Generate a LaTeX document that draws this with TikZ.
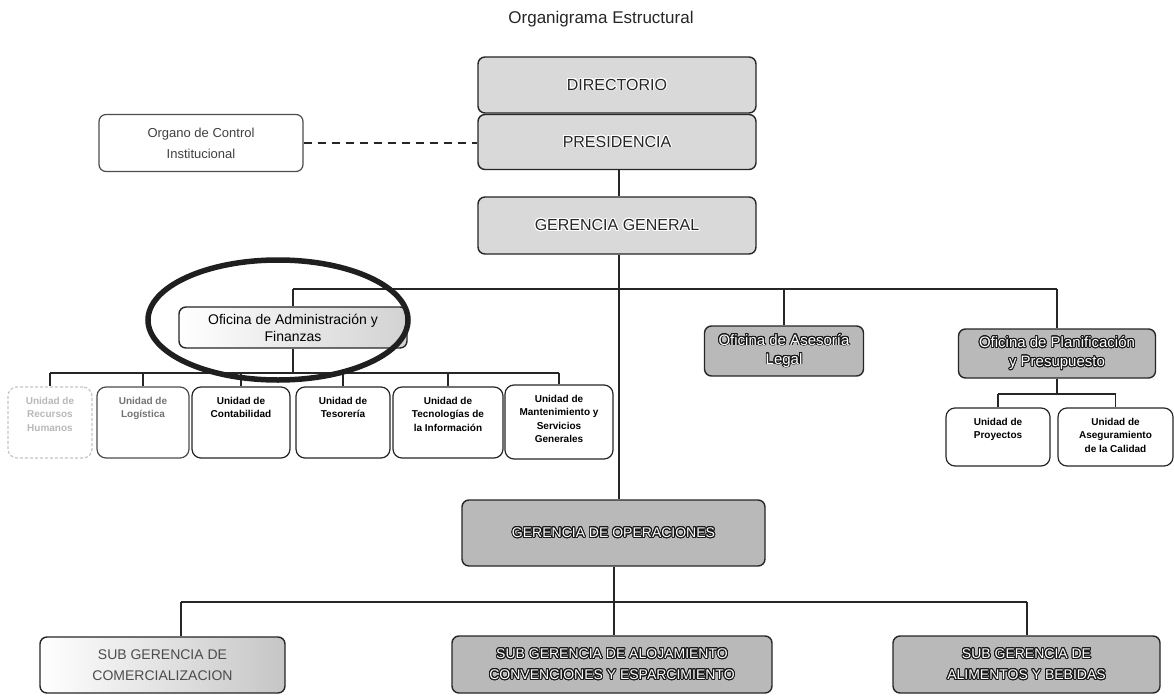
\documentclass[tikz,border=0pt]{standalone}
\usepackage{fontspec}
\setmainfont{Liberation Sans}
\usepackage{contour}
\contourlength{0.9pt}
\contournumber{24}
\usetikzlibrary{shapes.geometric}
\newcommand\utxt[3]{\parbox[c][#2][t]{#1}{\centering\vspace{10pt}#3}}
\newcommand\wout[1]{{\color{white}\contour{black!90}{#1}}}
\newcommand\bout[1]{{\color{black!85}\contour{white}{#1}}}
\tikzset{
  conn/.style={line width=1.1pt, draw=black!85},
  bx/.style={draw=black!85, line width=1.4pt, rounded corners=7pt, inner sep=0pt, align=center},
  topbox/.style={bx, fill=gray!30, minimum width=278pt, minimum height=56pt, font=\fontsize{16}{18}\selectfont},
  darkbox/.style={bx, fill=gray!55, font=\fontsize{15}{19}\selectfont},
  unitbox/.style={bx, line width=1.2pt, rounded corners=9pt, fill=white, font=\bfseries\fontsize{10}{13.5}\selectfont},
  ring/.style={line width=5.5pt, draw=black!88},
}
\begin{document}
\begin{tikzpicture}[x=1pt, y=-1pt]
\useasboundingbox (0,0) rectangle (1174,698);
\fill[white] (0,0) rectangle (1174,698);

\node[font=\fontsize{17}{19}\selectfont, text=black!85] (title) at (601,19) {Organigrama Estructural};

% top chain
\node[topbox] (dir) at (617,85) {\bout{DIRECTORIO}};
\node[topbox, minimum height=55pt] (pres) at (617,142) {\bout{PRESIDENCIA}};
\node[topbox, minimum height=57pt] (gg) at (617,225.5) {\bout{GERENCIA GENERAL}};

\node[bx, line width=1.2pt, draw=black!70, fill=white, minimum width=204pt, minimum height=57pt,
      font=\fontsize{13}{21}\selectfont, text=black!75] (oci) at (201,143) {Organo de Control\\Institucional};

\draw[conn, dashed, dash pattern=on 8pt off 6pt] (oci.east) -- (oci.east -| pres.west);
\draw[conn] (pres.south -| 619,0) -- (gg.north -| 619,0);

% level 2
\coordinate (hl) at (619,289);
\node[bx, left color=white, right color=gray!35, minimum width=228pt, minimum height=41pt,
      font=\fontsize{14}{17}\selectfont] (adm) at (293,327.5) {Oficina de Administración y\\Finanzas};
\node[darkbox, minimum width=159pt, minimum height=50pt] (ase) at (784,351) {\wout{Oficina de Asesoría}\\\wout{Legal}};
\node[darkbox, minimum width=197pt, minimum height=49pt] (pla) at (1057,353.5) {\wout{Oficina de Planificación}\\\wout{y Presupuesto}};

\draw[conn] (gg.south -| 619,0) -- (hl);
\draw[conn] (adm.north |- hl) -- (pla.north |- hl);
\draw[conn] (adm.north |- hl) -- (adm.north);
\draw[conn] (ase.north |- hl) -- (ase.north);
\draw[conn] (pla.north |- hl) -- (pla.north);

% units under administracion
\node[unitbox, draw=gray!45, densely dashed, text=gray!55] (u1) at (50,422.5) {\utxt{84pt}{71pt}{Unidad de\\Recursos\\Humanos}};
\node[unitbox, draw=black!70, text=black!55] (u2) at (143,422.5) {\utxt{92pt}{71pt}{Unidad de\\Logística}};
\node[unitbox] (u3) at (241,422.5) {\utxt{98pt}{71pt}{Unidad de\\Contabilidad}};
\node[unitbox] (u4) at (343,422.5) {\utxt{94pt}{71pt}{Unidad de\\Tesorería}};
\node[unitbox] (u5) at (448,422.5) {\utxt{110pt}{71pt}{Unidad de\\Tecnologías de\\la Información}};
\node[unitbox] (u6) at (559,422) {\utxt{108pt}{74pt}{Unidad de\\Mantenimiento y\\Servicios\\Generales}};

\coordinate (ub) at (293,373);
\draw[conn] (adm.south) -- (ub);
\draw[conn] (u1.north |- ub) -- (u6.north |- ub);
\foreach \u in {u1,u2,u3,u4,u5,u6} \draw[conn] (\u.north |- ub) -- (\u.north);

% units under planificacion
\node[unitbox] (pr) at (998,437) {\utxt{104pt}{58pt}{Unidad de\\Proyectos}};
\node[unitbox] (ac) at (1115.5,437) {\utxt{115pt}{58pt}{Unidad de\\Aseguramiento\\de la Calidad}};
\coordinate (pb) at (1057,394);
\draw[conn] (pla.south) -- (pb);
\draw[conn] (pr.north |- pb) -- (ac.north |- pb);
\draw[conn] (pr.north |- pb) -- (pr.north);
\draw[conn] (ac.north |- pb) -- (ac.north);

% operaciones
\node[darkbox, minimum width=303pt, minimum height=66pt, font=\fontsize{14}{17}\selectfont] (go) at (613.5,533) {\wout{GERENCIA DE OPERACIONES}};
\draw[conn] (hl) -- (hl |- go.north);

\node[bx, left color=white, right color=gray!45, minimum width=245pt, minimum height=56pt,
      font=\fontsize{14}{21}\selectfont, text=black!70] (sc) at (162.5,665) {SUB GERENCIA DE\\COMERCIALIZACION};
\node[darkbox, minimum width=320pt, minimum height=57pt, font=\fontsize{14}{21}\selectfont] (sa) at (612,664.5) {\wout{SUB GERENCIA DE ALOJAMIENTO}\\\wout{CONVENCIONES Y ESPARCIMIENTO}};
\node[darkbox, minimum width=267pt, minimum height=57pt, font=\fontsize{14}{21}\selectfont] (sb) at (1026.5,664.5) {\wout{SUB GERENCIA DE}\\\wout{ALIMENTOS Y BEBIDAS}};

\coordinate (ob) at (614,602);
\coordinate (obl) at (181,602);
\coordinate (obr) at (1027,602);
\draw[conn] (go.south -| ob) -- (ob);
\draw[conn] (obl) -- (obr);
\draw[conn] (obl) -- (obl |- sc.north);
\draw[conn] (ob) -- (ob |- sa.north);
\draw[conn] (obr) -- (obr |- sb.north);

% highlight ring
\draw[ring] (278,320) ellipse [x radius=130pt, y radius=60pt];
\end{tikzpicture}
\end{document}
